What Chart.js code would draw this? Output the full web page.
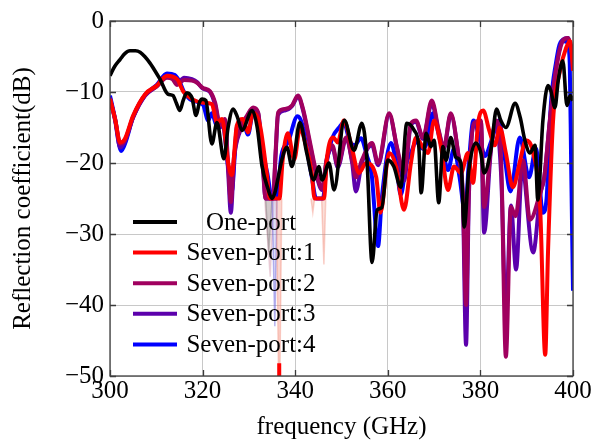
<!DOCTYPE html>
<html>
<head>
<meta charset="utf-8">
<script src="https://cdn.jsdelivr.net/npm/chart.js@4/dist/chart.umd.min.js"></script>
<style>
html,body{margin:0;padding:0;background:#fff;}
canvas{display:block;}
</style>
</head>
<body>
<canvas id="c" width="592" height="442"></canvas>
<script>
// ---------- data (frequency in GHz, reflection coefficient in dB) ----------
const seriesNames = ["One-port", "Seven-port:1", "Seven-port:2", "Seven-port:3", "Seven-port:4"];
const xTicks = [300, 320, 340, 360, 380, 400];
const yTicks = [0, -10, -20, -30, -40, -50];

const oneFreq = [300,301,302.2,303.2,304.3,305.5,306.5,307.5,308.6,309.7,310.8,312.5,313.6,314.3,315.1,315.8,316.6,317.2,317.7,318.6,319.3,319.9,320.7,322,323.1,324.6,325.5,326.6,327.5,328.5,330.7,331.8,332.8,334.1,335,335.6,337.1,338.2,339.3,341,342.5,344,345.1,345.8,347.3,348.4,350.6,352.7,354.4,355.5,356.6,357.7,358.7,360,361.3,362.8,364.1,365.7,366.7,367.2,368.3,369.3,370,371,371.9,372.6,373.6,374.7,375.8,376.5,377.5,379,380.1,380.8,382.3,383.5,384.4,385.5,387.5,388.6,389.6,390.7,391.8,392.4,393.5,394.6,395.2,396.1,396.8,397.8,398.7,399.4,400];
const oneDb   = [-7.7,-6.4,-5.4,-4.6,-4.2,-4.2,-4.4,-5,-5.9,-7,-8.2,-10.3,-10.5,-11.5,-12.6,-11.2,-10.1,-10.3,-10.8,-13.3,-11.5,-11,-11.2,-17.3,-14.3,-19.4,-15,-12.4,-13.5,-15.4,-12.6,-15,-20.3,-23.6,-25,-24.2,-19.6,-17.8,-20.5,-14.3,-18.6,-22.4,-20.5,-22.4,-20,-23.8,-14,-18.2,-14.4,-19.6,-34,-26.6,-26.3,-19.6,-20.5,-23.4,-14.4,-15.4,-17.7,-24.2,-15.8,-17.7,-16.8,-25.6,-17.7,-19.6,-16.4,-19.2,-20,-29,-21,-17.2,-18.6,-21.4,-18,-12.4,-14,-15,-11.6,-13.6,-16.8,-18.6,-17.5,-25.2,-14,-9.1,-9.8,-12.2,-8.4,-5.6,-11.9,-10.5,-11.2];

const s1Freq = [300,301.1,302.2,303.2,305,307.6,310.1,312.3,314.5,315.8,317.7,320.1,322,323.1,324.2,325.5,326.3,327.4,328.7,329.8,330.9,332.4,333.9,334.5,335.5,336.6,337.3,338.4,339.8,341,342.5,343.5,344.2,346.2,346.9,348.2,349.2,350.5,352,353.8,355.3,357.5,358.4,360.3,361.8,363.5,365,366.1,367.6,368.7,370,371.5,373,374.3,375.8,377.3,378.4,379.5,380.6,381.9,383.1,384.2,385.5,387,388.6,389.8,391.4,392.9,394,394.6,395.7,397.2,398.5,399.4,400];
const s1Db   = [-11,-13.8,-17.1,-16.6,-13.3,-10.3,-9.1,-7.7,-8.2,-9.9,-11,-11.5,-11.7,-14.3,-13.8,-19.9,-21.7,-14.7,-13.8,-15.7,-12.9,-14.7,-21.7,-25,-25,-25,-19.5,-15.8,-19.5,-15.2,-18,-21,-25,-25,-19.1,-16.4,-17.1,-14,-17.2,-21.4,-20,-22,-27,-18.6,-20.5,-26.6,-20,-16.4,-17.8,-18.6,-14,-17.8,-23.8,-20.5,-21.4,-18.6,-22.8,-14.4,-12.6,-15.4,-17.5,-15,-18.6,-23.4,-19.6,-16.8,-18.6,-26.2,-47,-32.6,-14,-7,-3.8,-2.8,-7];

const s2Freq = [300,301.1,302.2,303.2,305,307.6,310.1,312.3,313.5,314.5,316,317.7,318.8,320,321.6,322.7,323.8,324.8,325.5,326.1,326.8,328.1,329.6,330.9,332,333,333.6,335.2,335.8,336.3,337.8,339.3,340.6,341.7,343.2,344.7,345.8,346.8,348,349.2,351,352.3,353.1,354.4,356.6,357.9,360.3,362,363.5,365,366.1,367.6,369.5,371,372.1,373.6,375.2,376.2,376.9,377.5,378.6,380.1,380.8,382.3,383.4,384.5,385.5,386.6,387.6,389.2,390.7,392.9,393.8,395,396.3,397.8,398.9,399.8];
const s2Db   = [-11,-13.8,-17.3,-16.8,-13.5,-10.4,-9.2,-8,-8.2,-9,-8.3,-8.4,-8.7,-9.4,-9.9,-11.5,-14.7,-13.8,-20,-25.5,-19,-15.2,-13.3,-12.2,-12.9,-20,-25,-25,-18,-12.9,-12.4,-11.9,-10.5,-12.4,-17.1,-21.7,-23.6,-19.4,-17.5,-20.3,-16.4,-19.6,-22,-19.6,-17.2,-20,-13,-17.8,-21.4,-14.4,-14,-16.4,-11.2,-15.4,-17.8,-13,-18.6,-24.2,-40,-24,-14.4,-14,-26.2,-17.8,-14,-20,-47.3,-26.2,-27.5,-19.6,-28,-24.2,-22,-14,-7,-2.8,-2.4,-4.6];

const s3Freq = [300,301.1,302.2,303.2,305,307.6,310.1,312.3,313.5,314.5,316,317.7,318.8,320,321.6,322.7,323.8,324.8,325.5,326.1,326.8,328.1,329.6,330.9,332,333,333.6,335.2,335.8,336.3,337.8,339.3,340.6,341.7,343.2,344.7,345.8,346.8,348,349.2,351,352.3,353.1,354.4,356.6,357.9,360.3,362,363.5,365,366.1,367.6,369.5,371,372.1,373.6,375.2,376.2,376.9,377.5,378.6,380.1,380.8,382.3,383.4,384.5,385.5,386.6,387.7,389,391.4,392.9,393.8,395,396.3,397.8,398.9,399.8];
const s3Db   = [-10.8,-14,-17.8,-17,-13.6,-10.5,-9.2,-7.8,-8,-8.8,-8,-8.2,-8.6,-9.5,-10,-11.8,-15,-14,-21,-27,-19.5,-15.5,-13.5,-12.4,-13,-20.5,-25,-25,-18.5,-13.2,-12.6,-12,-10.7,-12.6,-17.5,-22,-23.8,-19.6,-17.8,-20.6,-16.6,-20,-24,-20,-17.5,-20.3,-13.2,-18,-22.5,-14.6,-14.2,-16.6,-11.6,-15.6,-18,-13.2,-18.8,-25,-45.6,-25,-14.6,-14.2,-29.8,-18,-14.5,-22,-41.5,-26,-35,-21,-32.6,-24.5,-22,-14,-6.8,-2.6,-2.4,-4.6];

const s4Freq = [300,301.1,302.4,303.4,305,307.6,310.1,312.3,314,315,316,317.7,320.1,321.2,322,323.1,324.2,325.5,326.3,327.4,328.7,329.8,330.9,332.4,333.2,334,335,336,337,338.5,340.5,341.5,342.5,343.6,344.5,346,346.8,348,349.5,350.5,351.8,352.8,354.2,355.5,356.5,357.9,358.7,360.7,361.8,362.8,364,365,366.1,367.6,368.5,369.7,371,372.1,373,374.3,375.5,376.7,377.5,378.5,380,381,382.3,384,385.2,386.5,388.5,390.5,392,393.5,394.3,395.2,396.3,397.5,398.8,399.3,399.6,400];
const s4Db   = [-10.5,-13.8,-18.3,-17,-13.5,-10.4,-9,-7.4,-7.6,-8.5,-10,-11.2,-11.8,-14,-13,-14.8,-14,-20.5,-24,-15,-14,-16,-13,-15.5,-19,-21.5,-25,-25,-19,-17,-13.4,-14.5,-18,-22,-25,-25,-20,-16.5,-15,-14.3,-17,-17.5,-16.5,-19,-21.5,-31.7,-25,-17.2,-20,-24.5,-20,-18.6,-17,-18,-17,-13,-16,-19,-21,-18,-22,-27,-20,-14,-17,-19,-17,-14,-19,-24,-16.4,-22,-18,-27,-25,-12,-6,-2.8,-3,-6,-20,-38];

// faint dips below the -25 dB cut-off around 334-347 GHz
const ghostBlackFreq = [333.6,334.3,335];
const ghostBlackDb   = [-25,-32.6,-25];
const ghostVioletFreq = [335,335.6,336.1];
const ghostVioletDb   = [-25,-43,-25];
const ghostMagentaFreq = [333.4,334.6,335.4];
const ghostMagentaDb   = [-25,-36,-25];
const ghostRedFreq = [335.9,336.4,336.7,337.1];
const ghostRedDb   = [-25,-50,-50,-25];
const ghostRed2Freq = [343.4,343.8,344.2,345.7,346.2,346.6];
const ghostRed2Db   = [-25,-27,-25,-25,-34.3,-25];
const redTipFreq = [336.55,336.55];
const redTipDb   = [-48.2,-50];

// ---------- helpers ----------
const pts = (xs, ys) => xs.map((x, i) => ({x: x, y: ys[i]}));
const COLORS = ["#000000", "#ff0000", "rgb(160,0,95)", "rgb(92,0,172)", "#0000ff"];
const FONT = "'Liberation Serif', 'Times New Roman', serif";

function mainSet(i, xs, ys, w) {
  return {label: seriesNames[i], data: pts(xs, ys), borderColor: COLORS[i], backgroundColor: COLORS[i],
    borderWidth: w, pointRadius: 0, tension: 0, cubicInterpolationMode: 'monotone', fill: false, showInLegend: true};
}
function ghostSet(xs, ys, color, fillColor) {
  return {label: '', data: pts(xs, ys), borderColor: color, backgroundColor: fillColor, borderWidth: 1.5,
    pointRadius: 0, tension: 0, fill: {value: -25}, showInLegend: false};
}

const datasets = [
  mainSet(0, oneFreq, oneDb, 3.6),
  mainSet(1, s1Freq, s1Db, 4),
  mainSet(2, s2Freq, s2Db, 4),
  mainSet(3, s3Freq, s3Db, 4),
  mainSet(4, s4Freq, s4Db, 4),
  {label: '', data: pts(redTipFreq, redTipDb), borderColor: '#ff0000', borderWidth: 4, pointRadius: 0, fill: false, showInLegend: false},
  ghostSet(ghostRedFreq, ghostRedDb, 'rgba(240,120,100,0.35)', 'rgba(240,140,120,0.35)'),
  ghostSet(ghostRed2Freq, ghostRed2Db, 'rgba(240,120,100,0.35)', 'rgba(240,150,130,0.3)'),
  ghostSet(ghostVioletFreq, ghostVioletDb, 'rgba(100,90,220,0.45)', 'rgba(150,150,230,0.3)'),
  ghostSet(ghostBlackFreq, ghostBlackDb, 'rgba(80,80,80,0.3)', 'rgba(150,150,150,0.35)'),
  ghostSet(ghostMagentaFreq, ghostMagentaDb, 'rgba(200,120,150,0.3)', 'rgba(220,170,180,0.3)')
];

// frame, inner ticks and in-plot legend
const framePlugin = {
  id: 'frame',
  afterDraw(chart) {
    const {ctx, chartArea: a, scales} = chart;
    ctx.save();
    ctx.strokeStyle = '#3a3a3a';
    ctx.lineWidth = 1.3;
    ctx.beginPath();
    xTicks.forEach(v => {
      const px = Math.round(scales.x.getPixelForValue(v)) + 0.5;
      ctx.moveTo(px, a.bottom); ctx.lineTo(px, a.bottom - 6);
      ctx.moveTo(px, a.top); ctx.lineTo(px, a.top + 6);
    });
    yTicks.forEach(v => {
      const py = Math.round(scales.y.getPixelForValue(v)) + 0.5;
      ctx.moveTo(a.left, py); ctx.lineTo(a.left + 6, py);
      ctx.moveTo(a.right, py); ctx.lineTo(a.right - 6, py);
    });
    ctx.stroke();
    ctx.strokeStyle = '#404040';
    ctx.strokeRect(a.left, a.top, a.right - a.left, a.bottom - a.top);
    // legend
    const x0 = a.left + 23, x1 = a.left + 67, tx = a.left + 141;
    const y0 = a.top + 201, dy = 30.6;
    ctx.font = "25px " + FONT;
    ctx.textAlign = 'center';
    ctx.textBaseline = 'middle';
    let row = 0;
    chart.data.datasets.forEach(ds => {
      if (!ds.showInLegend) return;
      const y = y0 + row * dy;
      ctx.strokeStyle = ds.borderColor;
      ctx.lineWidth = 4;
      ctx.beginPath(); ctx.moveTo(x0, y); ctx.lineTo(x1, y); ctx.stroke();
      ctx.fillStyle = '#000';
      ctx.fillText(ds.label, tx, y + 1);
      row++;
    });
    ctx.restore();
  }
};

new Chart(document.getElementById('c'), {
  type: 'line',
  data: {datasets: datasets},
  plugins: [framePlugin],
  options: {
    responsive: false,
    animation: false,
    devicePixelRatio: 1,
    layout: {padding: {left: 8, right: 19, top: 18, bottom: 0}},
    plugins: {legend: {display: false}, tooltip: {enabled: false}},
    scales: {
      x: {
        type: 'linear', min: 300, max: 400,
        afterBuildTicks: s => { s.ticks = xTicks.map(v => ({value: v})); },
        afterFit: s => { s.height = 66; },
        grid: {color: '#c8c8c8', lineWidth: 1, drawTicks: false},
        border: {display: false},
        ticks: {color: '#000', font: {family: FONT, size: 25}, padding: 0, maxRotation: 0,
          callback: v => String(v)},
        title: {display: true, text: 'frequency (GHz)', color: '#000', font: {family: FONT, size: 25}, padding: {top: 4, bottom: 0}}
      },
      y: {
        type: 'linear', min: -50, max: 0,
        afterBuildTicks: s => { s.ticks = yTicks.map(v => ({value: v})); },
        afterFit: s => { s.width = 102; },
        grid: {color: '#c8c8c8', lineWidth: 1, drawTicks: false},
        border: {display: false},
        ticks: {color: '#000', font: {family: FONT, size: 25}, padding: 6,
          callback: v => (v < 0 ? '\u2212' + Math.abs(v) : String(v))},
        title: {display: true, text: 'Reflection coefficient(dB)', color: '#000', font: {family: FONT, size: 25}, padding: {top: 0, bottom: 4}}
      }
    }
  }
});
</script>
</body>
</html>
